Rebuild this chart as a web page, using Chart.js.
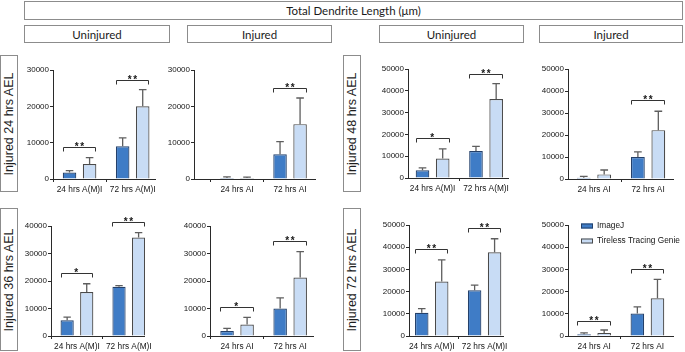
<!DOCTYPE html>
<html><head><meta charset="utf-8">
<script src="https://cdn.jsdelivr.net/npm/chart.js@4.4.1/dist/chart.umd.min.js"></script>
<style>
body{margin:0;width:685px;height:352px;background:#fff;position:relative;overflow:hidden;font-family:'Liberation Sans',Arial,sans-serif;}
.box{position:absolute;border:1px solid #8c8c8c;box-sizing:border-box;display:flex;align-items:center;justify-content:center;font-family:Lato,'Open Sans',sans-serif;font-size:11.5px;color:#1a1a1a;}
.row{position:absolute;border:1px solid #8c8c8c;box-sizing:border-box;}
.row span{position:absolute;left:50%;top:50%;transform:translate(-50%,-50%) rotate(-90deg);white-space:nowrap;font-size:12.5px;color:#1e1e1e;}
canvas{position:absolute;}
</style></head><body>
<script>
// ---------------- DATA ----------------
const seriesNames = ['ImageJ', 'Tireless Tracing Genie'];
const headerTitle = 'Total Dendrite Length (μm)';
const columnTitles = ['Uninjured', 'Injured', 'Uninjured', 'Injured'];
const rowTitles = ['Injured 24 hrs AEL', 'Injured 36 hrs AEL', 'Injured 48 hrs AEL', 'Injured 72 hrs AEL'];
const catsUninjured = ['24 hrs A(M)I', '72 hrs A(M)I'];
const catsInjured = ['24 hrs AI', '72 hrs AI'];
const ticks30k = [0, 10000, 20000, 30000];
const ticks40k = [0, 10000, 20000, 30000, 40000];
const ticks50k = [0, 10000, 20000, 30000, 40000, 50000];

// Injured 24 hrs AEL – Uninjured
const p1ImageJ = [1800, 9000];   const p1ImageJSD = [500, 2300];
const p1TTG = [4100, 20000];     const p1TTGSD = [1800, 4600];
const p1Sig = ['**', '**'];      const p1SigY = [8800, 27300];
// Injured 24 hrs AEL – Injured
const p2ImageJ = [300, 6800];    const p2ImageJSD = [300, 3500];
const p2TTG = [250, 15100];      const p2TTGSD = [250, 7200];
const p2Sig = ['', '**'];        const p2SigY = [0, 25100];
// Injured 48 hrs AEL – Uninjured
const p3ImageJ = [3500, 12400];  const p3ImageJSD = [1100, 2100];
const p3TTG = [8900, 36200];     const p3TTGSD = [4500, 7100];
const p3Sig = ['*', '**'];       const p3SigY = [18300, 47800];
// Injured 48 hrs AEL – Injured
const p4ImageJ = [600, 10000];   const p4ImageJSD = [600, 2300];
const p4TTG = [2100, 22200];     const p4TTGSD = [2000, 8600];
const p4Sig = ['', '**'];        const p4SigY = [0, 35700];
// Injured 36 hrs AEL – Uninjured
const p5ImageJ = [5700, 17900];  const p5ImageJSD = [1200, 400];
const p5TTG = [16000, 35800];    const p5TTGSD = [3000, 1800];
const p5Sig = ['*', '**'];       const p5SigY = [23000, 41300];
// Injured 36 hrs AEL – Injured
const p6ImageJ = [1800, 10000];  const p6ImageJSD = [1000, 3900];
const p6TTG = [4200, 21300];     const p6TTGSD = [2600, 9400];
const p6Sig = ['*', '**'];       const p6SigY = [10700, 34700];
// Injured 72 hrs AEL – Uninjured
const p7ImageJ = [10500, 20600]; const p7ImageJSD = [1800, 2300];
const p7TTG = [24500, 37700];    const p7TTGSD = [9800, 6100];
const p7Sig = ['**', '**'];      const p7SigY = [39200, 48500];
// Injured 72 hrs AEL – Injured
const p8ImageJ = [800, 10100];   const p8ImageJSD = [600, 3000];
const p8TTG = [1400, 17000];     const p8TTGSD = [1300, 8500];
const p8Sig = ['**', '**'];      const p8SigY = [6800, 30300];

// ---------------- LAYOUT / STYLE ----------------
const COLORS = {imagejFill:'#3f7cc6', imagejBorder:'#24406a', ttgFill:'#c8dcf5', ttgBorder:'#4a4a4a', err:'#5e5e5e', axis:'#2a2a2a', text:'#151515'};
const panels = [
  {cats:catsUninjured, a:p1ImageJ, aSD:p1ImageJSD, b:p1TTG, bSD:p1TTGSD, sig:p1Sig, sigY:p1SigY, ticks:ticks30k, L:{left:53, right:155, top:70, bottom:179, xmin:-0.5, xmax:1.42}},
  {cats:catsInjured,   a:p2ImageJ, aSD:p2ImageJSD, b:p2TTG, bSD:p2TTGSD, sig:p2Sig, sigY:p2SigY, ticks:ticks30k, L:{left:194, right:315, top:70, bottom:179, xmin:-0.81, xmax:1.47}},
  {cats:catsUninjured, a:p3ImageJ, aSD:p3ImageJSD, b:p3TTG, bSD:p3TTGSD, sig:p3Sig, sigY:p3SigY, ticks:ticks50k, L:{left:408, right:508, top:69, bottom:178, xmin:-0.46, xmax:1.41}},
  {cats:catsInjured,   a:p4ImageJ, aSD:p4ImageJSD, b:p4TTG, bSD:p4TTGSD, sig:p4Sig, sigY:p4SigY, ticks:ticks50k, L:{left:568, right:673, top:69, bottom:179, xmin:-0.48, xmax:1.46}},
  {cats:catsUninjured, a:p5ImageJ, aSD:p5ImageJSD, b:p5TTG, bSD:p5TTGSD, sig:p5Sig, sigY:p5SigY, ticks:ticks40k, L:{left:51, right:148, top:226, bottom:336, xmin:-0.5, xmax:1.31}},
  {cats:catsInjured,   a:p6ImageJ, aSD:p6ImageJSD, b:p6TTG, bSD:p6TTGSD, sig:p6Sig, sigY:p6SigY, ticks:ticks40k, L:{left:210, right:313, top:226, bottom:336, xmin:-0.51, xmax:1.43}},
  {cats:catsUninjured, a:p7ImageJ, aSD:p7ImageJSD, b:p7TTG, bSD:p7TTGSD, sig:p7Sig, sigY:p7SigY, ticks:ticks50k, L:{left:409, right:504, top:225, bottom:336, xmin:-0.43, xmax:1.35}},
  {cats:catsInjured,   a:p8ImageJ, aSD:p8ImageJSD, b:p8TTG, bSD:p8TTGSD, sig:p8Sig, sigY:p8SigY, ticks:ticks50k, L:{left:568, right:673, top:225, bottom:336, xmin:-0.49, xmax:1.48}, legend:true}
];

// ---------------- HEADERS ----------------
function addBox(text, l, t, w, h, cls) {
  const d = document.createElement('div');
  d.className = cls; d.style.left = l + 'px'; d.style.top = t + 'px';
  d.style.width = w + 'px'; d.style.height = h + 'px';
  if (cls === 'row') { const s = document.createElement('span'); s.textContent = text; d.appendChild(s); }
  else d.textContent = text;
  document.body.appendChild(d);
}
addBox(headerTitle, 24, 1, 659, 19, 'box');
[[24,146],[187,145],[379,145],[539,144]].forEach((p, i) => addBox(columnTitles[i], p[0], 25, p[1], 18, 'box'));
addBox(rowTitles[0], 0, 55, 18, 137, 'row');
addBox(rowTitles[1], 0, 208, 18, 143, 'row');
addBox(rowTitles[2], 343, 55, 18, 137, 'row');
addBox(rowTitles[3], 343, 208, 18, 143, 'row');

// ---------------- PLUGINS ----------------
const errorBarPlugin = {
  id: 'errbars',
  afterDatasetsDraw(chart) {
    const {ctx} = chart; const y = chart.scales.y;
    chart.data.datasets.forEach((ds, di) => {
      const meta = chart.getDatasetMeta(di);
      meta.data.forEach((bar, i) => {
        const top = y.getPixelForValue(ds.data[i].y + ds.sd[i]);
        const cw = bar.width * 0.28;
        ctx.save(); ctx.strokeStyle = COLORS.err; ctx.lineWidth = 1.3;
        ctx.beginPath();
        ctx.moveTo(bar.x, bar.y); ctx.lineTo(bar.x, top);
        ctx.moveTo(bar.x - cw, top); ctx.lineTo(bar.x + cw, top);
        ctx.stroke(); ctx.restore();
      });
    });
  }
};
const sigPlugin = {
  id: 'sigbrackets',
  afterDraw(chart, args, opts) {
    const {ctx} = chart; const y = chart.scales.y;
    const m0 = chart.getDatasetMeta(0), m1 = chart.getDatasetMeta(1);
    const labels = opts.labels, heights = opts.heights;
    for (let i = 0; i < labels.length; i++) {
      const lab = labels[i]; if (!lab) continue;
      const b0 = m0.data[i], b1 = m1.data[i];
      const x0 = Math.round(b0.x - b0.width / 2) + 0.5, x1 = Math.round(b1.x + b1.width / 2) - 0.5;
      const yy = Math.round(y.getPixelForValue(heights[i])) + 0.5;
      ctx.save(); ctx.strokeStyle = '#333'; ctx.lineWidth = 1;
      ctx.beginPath(); ctx.moveTo(x0, yy + 4); ctx.lineTo(x0, yy); ctx.lineTo(x1, yy); ctx.lineTo(x1, yy + 4); ctx.stroke();
      ctx.fillStyle = COLORS.text; ctx.font = 'bold 10px "Liberation Sans"'; ctx.textAlign = 'center'; ctx.textBaseline = 'alphabetic';
      if ('letterSpacing' in ctx) ctx.letterSpacing = '1.5px';
      ctx.fillText(lab, (x0 + x1) / 2 + (lab.length > 1 ? 0.75 : 0), yy + 2);
      ctx.restore();
    }
  }
};
const miniLegendPlugin = {
  id: 'miniLegend',
  afterDraw(chart, args, opts) {
    if (!opts.show) return;
    const {ctx, chartArea} = chart;
    chart.data.datasets.forEach((ds, i) => {
      const x = chartArea.left + 13, yc = chartArea.top + 1 + i * 15;
      ctx.save();
      ctx.fillStyle = ds.backgroundColor; ctx.fillRect(x, yc - 2.5, 12, 5);
      ctx.strokeStyle = ds.borderColor; ctx.lineWidth = 1; ctx.strokeRect(x + 0.5, yc - 2, 11, 4);
      ctx.fillStyle = COLORS.text; ctx.font = '8.3px "Liberation Sans"'; ctx.textBaseline = 'middle'; ctx.textAlign = 'left';
      ctx.fillText(ds.label, x + 16, yc);
      ctx.restore();
    });
  }
};

// ---------------- CHARTS ----------------
const PAD_L = 40, PAD_T = 12, PAD_B = 20, PAD_R = 8;
panels.forEach((p) => {
  const L = p.L;
  const cv = document.createElement('canvas');
  const w = (L.right - L.left) + PAD_L + PAD_R, h = (L.bottom - L.top) + PAD_T + PAD_B;
  cv.width = w; cv.height = h;
  cv.style.left = (L.left - PAD_L) + 'px'; cv.style.top = (L.top - PAD_T) + 'px';
  cv.style.width = w + 'px'; cv.style.height = h + 'px';
  document.body.appendChild(cv);
  const mk = (vals) => vals.map((v, i) => ({x: i, y: v}));
  new Chart(cv, {
    type: 'bar',
    data: {
      datasets: [
        {label: seriesNames[0], data: mk(p.a), sd: p.aSD, backgroundColor: COLORS.imagejFill, borderColor: COLORS.imagejBorder, borderWidth: 1.2},
        {label: seriesNames[1], data: mk(p.b), sd: p.bSD, backgroundColor: COLORS.ttgFill, borderColor: COLORS.ttgBorder, borderWidth: 1.2}
      ]
    },
    options: {
      responsive: false, animation: false, devicePixelRatio: 1,
      categoryPercentage: 0.755, barPercentage: 0.675,
      layout: {padding: {top: PAD_T, right: PAD_R, left: 0, bottom: 0}},
      plugins: {legend: {display: false}, tooltip: {enabled: false},
        sigbrackets: {labels: p.sig, heights: p.sigY},
        miniLegend: {show: !!p.legend}},
      scales: {
        x: {
          type: 'linear', min: L.xmin, max: L.xmax, offset: false,
          afterBuildTicks: (s) => { s.ticks = p.cats.map((c, i) => ({value: i})); },
          afterFit: (s) => { s.height = PAD_B; },
          grid: {offset: true, drawOnChartArea: false, drawTicks: true, tickLength: 3, color: COLORS.axis, lineWidth: 1},
          border: {display: true, color: COLORS.axis, width: 1},
          ticks: {autoSkip: false, maxRotation: 0, padding: 3, color: COLORS.text, font: {family: 'Liberation Sans', size: 8.3},
            callback: (v, i) => p.cats[i]}
        },
        y: {
          type: 'linear', min: 0, max: p.ticks[p.ticks.length - 1],
          afterBuildTicks: (s) => { s.ticks = p.ticks.map(v => ({value: v})); },
          afterFit: (s) => { s.width = PAD_L; },
          grid: {drawOnChartArea: false, drawTicks: true, tickLength: 3, color: COLORS.axis, lineWidth: 1},
          border: {display: true, color: COLORS.axis, width: 1},
          ticks: {padding: 1, color: COLORS.text, font: {family: 'Liberation Sans', size: 8}, callback: (v) => String(v)}
        }
      }
    },
    plugins: [errorBarPlugin, sigPlugin, miniLegendPlugin]
  });
});
</script>
</body></html>
